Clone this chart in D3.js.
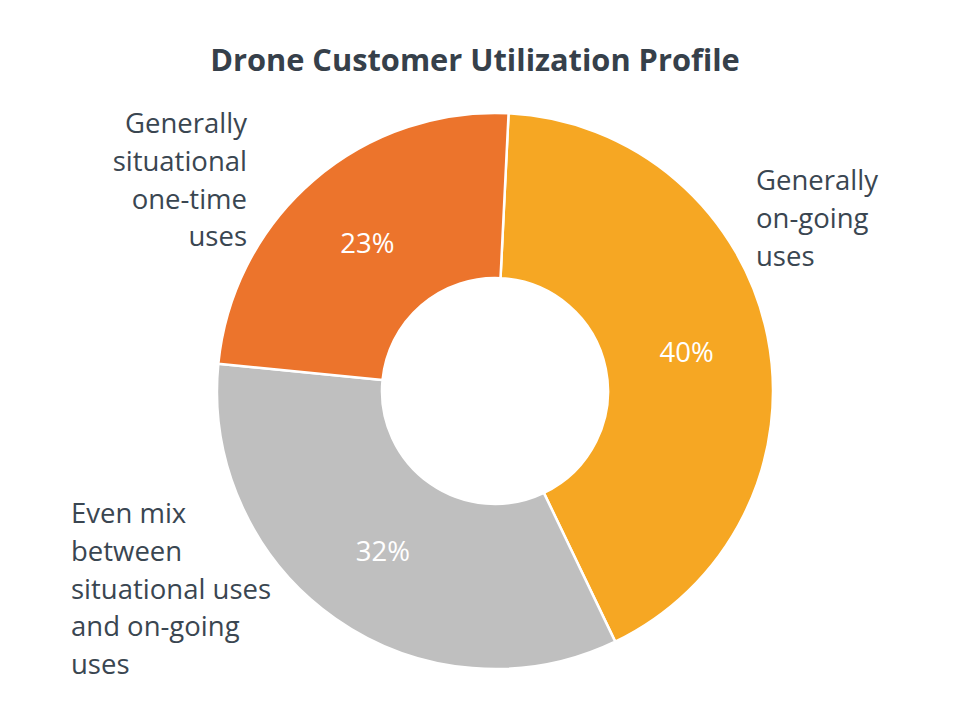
<!DOCTYPE html>
<html>
<head>
<meta charset="utf-8">
<script src="https://cdn.jsdelivr.net/npm/d3@7"></script>
<style>
  html, body { margin: 0; padding: 0; background: #ffffff; }
  svg { display: block; }
</style>
</head>
<body>
<svg id="chart" width="960" height="720"></svg>
<script>
// ---- data ----
const categories = [
  "Generally on-going uses",
  "Even mix between situational uses and on-going uses",
  "Generally situational one-time uses"
];
const values = [40, 32, 23];
const valueLabels = ["40%", "32%", "23%"];
const labelLines = [
  ["Generally", "on-going", "uses"],
  ["Even mix", "between", "situational uses", "and on-going", "uses"],
  ["Generally", "situational", "one-time", "uses"]
];
const colors = ["#F6A723", "#BFBFBF", "#EC742C"];
const title = "Drone Customer Utilization Profile";

// ---- layout ----
const W = 960, H = 720;
const cx = 495, cy = 391;
const outerR = 278, innerR = 113;
const startDeg = 2.8;
const textColor = "#3A4651";
const fontFamily = "'Open Sans', Lato, sans-serif";

const svg = d3.select("#chart");

// fit a text element's font-size so that its width matches a target
function fitWidth(sel, target) {
  const fs = +sel.attr("font-size");
  const w = sel.node().getComputedTextLength();
  if (w > 0) sel.attr("font-size", fs * target / w);
}

const titleEl = svg.append("text")
  .attr("x", 475).attr("y", 71)
  .attr("text-anchor", "middle")
  .attr("font-family", fontFamily)
  .attr("font-weight", "bold")
  .attr("font-size", 28)
  .attr("fill", "#36404A")
  .text(title);
fitWidth(titleEl, 530);

const pie = d3.pie().sort(null).value(d => d)
  .startAngle(startDeg * Math.PI / 180)
  .endAngle(startDeg * Math.PI / 180 + 2 * Math.PI);
const arcs = pie(values);
const arc = d3.arc().innerRadius(innerR).outerRadius(outerR);
const midArc = d3.arc().innerRadius((innerR + outerR) / 2).outerRadius((innerR + outerR) / 2);

const g = svg.append("g").attr("transform", `translate(${cx},${cy})`);

g.selectAll("path.slice").data(arcs).enter().append("path")
  .attr("class", "slice")
  .attr("d", arc)
  .attr("fill", (d, i) => colors[i])
  .attr("stroke", "#ffffff")
  .attr("stroke-width", 2.5)
  .attr("stroke-linejoin", "round");

g.selectAll("text.pct").data(arcs).enter().append("text")
  .attr("class", "pct")
  .attr("transform", d => `translate(${midArc.centroid(d)})`)
  .attr("text-anchor", "middle")
  .attr("dy", "0.36em")
  .attr("font-family", fontFamily)
  .attr("font-size", 27.5)
  .attr("fill", "#ffffff")
  .text((d, i) => valueLabels[i]);

// category label blocks (anchor x, first baseline y, alignment)
const labelPos = [
  { x: 756, y: 190, anchor: "start" },
  { x: 71, y: 523, anchor: "start" },
  { x: 247, y: 133, anchor: "end" }
];
const lineH = 37.8;

labelLines.forEach((lines, i) => {
  const p = labelPos[i];
  const t = svg.append("text")
    .attr("font-family", fontFamily)
    .attr("font-size", 27.5)
    .attr("fill", textColor)
    .attr("text-anchor", p.anchor);
  lines.forEach((ln, j) => {
    t.append("tspan").attr("x", p.x).attr("y", p.y + j * lineH).text(ln);
  });
});
</script>
</body>
</html>
